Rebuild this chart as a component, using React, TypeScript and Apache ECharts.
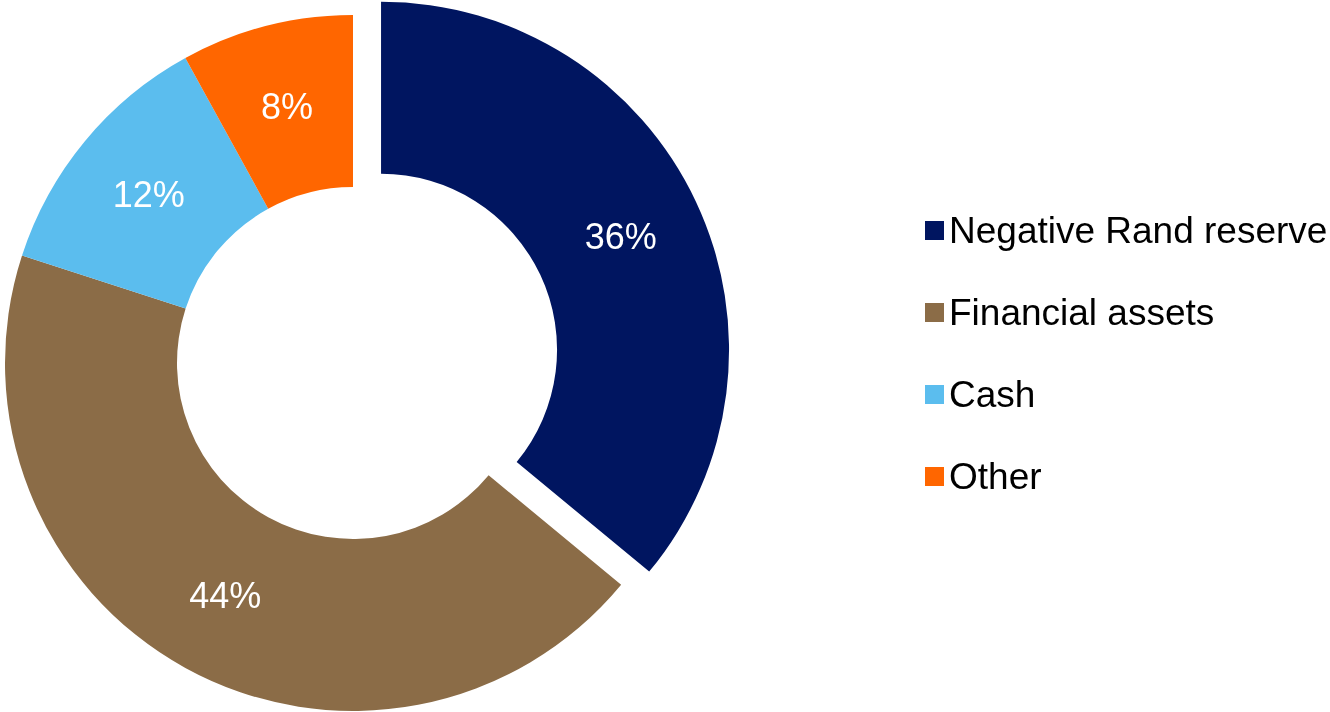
import React, { useEffect, useRef } from "react";
import * as echarts from "echarts";

const categories = ["Negative Rand reserve", "Financial assets", "Cash", "Other"];
const values = [36, 44, 12, 8];
const colors = ["#001560", "#8B6C47", "#5BBDEE", "#FF6600"];

export default function App() {
  const ref = useRef<HTMLDivElement>(null);
  useEffect(() => {
    if (!ref.current) return;
    const chart = echarts.init(ref.current, null, { renderer: "svg" });
    chart.setOption({
      animation: false,
      legend: {
        orient: "vertical",
        left: 920,
        top: 207,
        icon: "rect",
        itemWidth: 19,
        itemHeight: 19,
        itemGap: 45,
        data: categories,
        textStyle: {
          fontSize: 37,
          lineHeight: 37,
          color: "#000",
          fontFamily: "'Liberation Sans', Arial, sans-serif",
        },
      },
      series: [
        {
          type: "pie",
          center: [353, 363],
          radius: [176, 348],
          startAngle: 90,
          clockwise: true,
          selectedMode: "single",
          selectedOffset: 31,
          emphasis: { disabled: true },
          label: {
            show: true,
            position: "inside",
            formatter: "{c}%",
            color: "#fff",
            fontSize: 36,
            fontFamily: "'Liberation Sans', Arial, sans-serif",
          },
          labelLine: { show: false },
          data: categories.map((name, i) => ({
            name,
            value: values[i],
            selected: i === 0,
            itemStyle: { color: colors[i] },
          })),
        },
      ],
    });
    return () => chart.dispose();
  }, []);
  return (
    <div
      ref={ref}
      style={{ position: "fixed", left: 0, top: 0, width: 1330, height: 712 }}
    />
  );
}
